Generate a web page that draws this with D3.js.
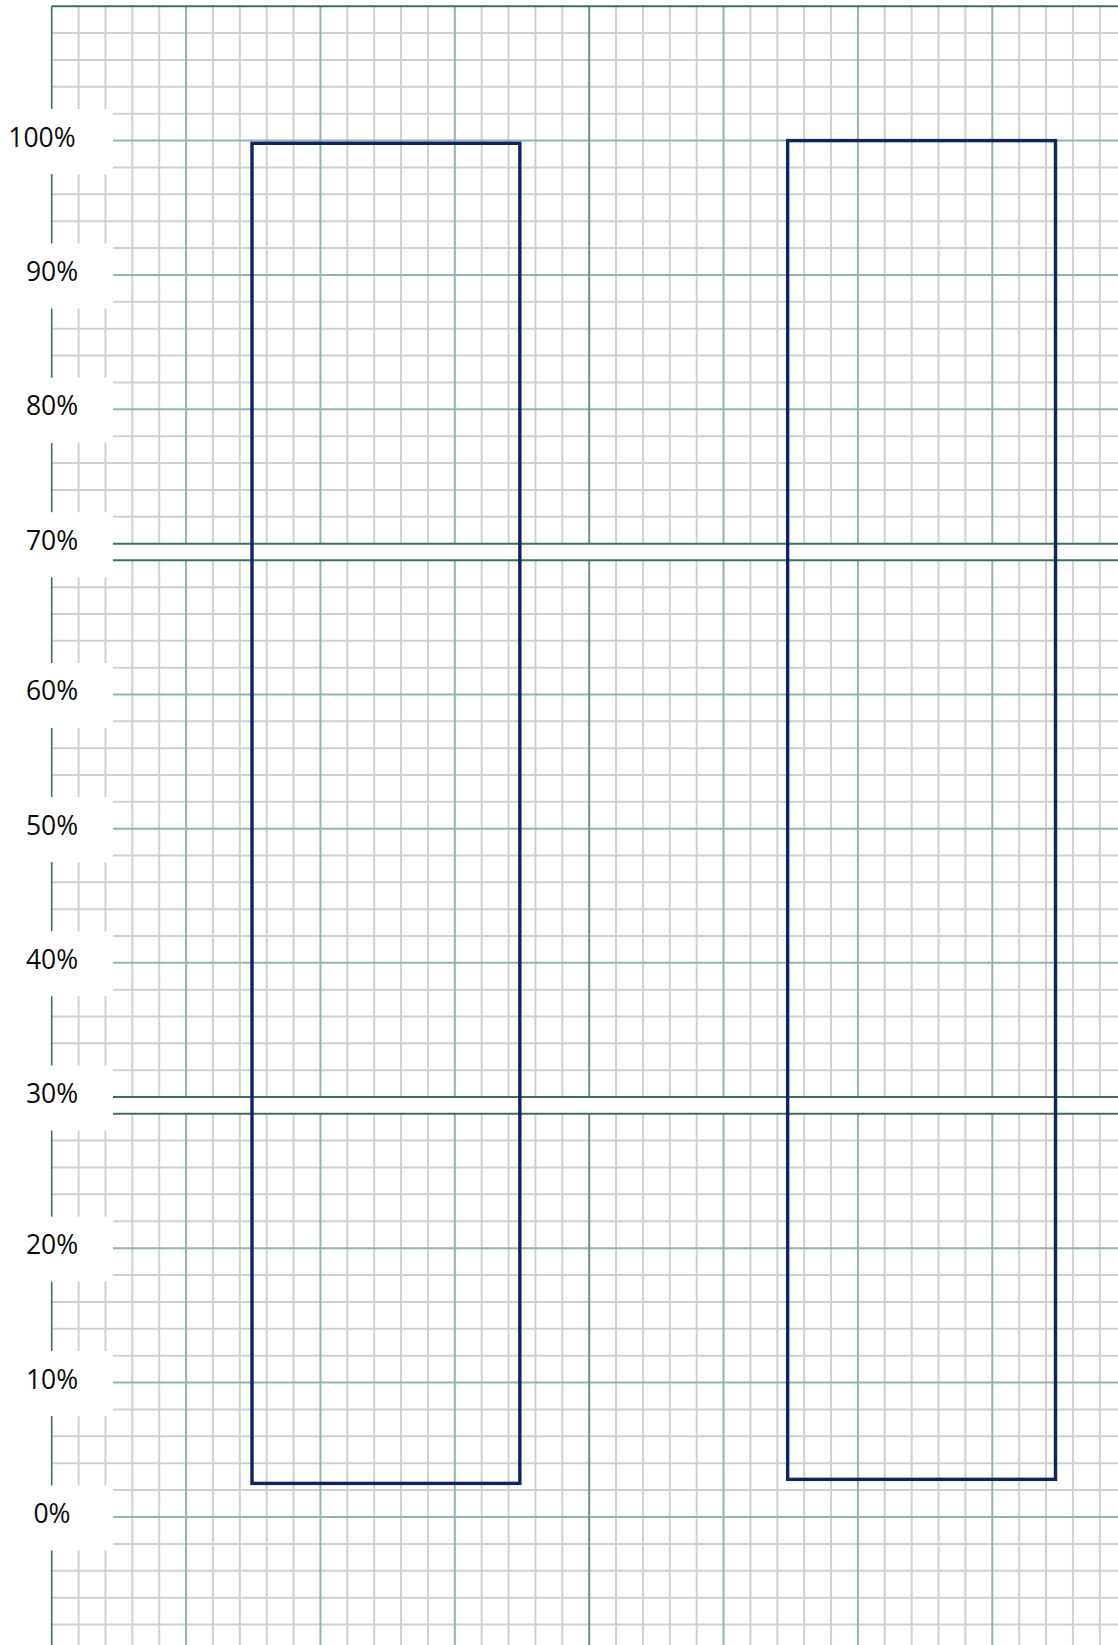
<!DOCTYPE html>
<html>
<head>
<meta charset="utf-8">
<script src="https://cdnjs.cloudflare.com/ajax/libs/d3/7.8.5/d3.min.js"></script>
<style>
  body { margin: 0; background: #fff; }
  svg { display: block; }
  .tick-label { font-family: "Open Sans", sans-serif; font-size: 26.5px; fill: #0a0a0a; }
</style>
</head>
<body>
<div id="chart"></div>
<script>
// floating bars: each one runs from a low to a high percentage
var categories = ['Bar 1', 'Bar 2'];
var lowValues = [2.5, 2.8];
var highValues = [99.8, 100.0];
var tickValues = [0, 10, 20, 30, 40, 50, 60, 70, 80, 90, 100];
var tickLabels = ['0%', '10%', '20%', '30%', '40%', '50%', '60%', '70%', '80%', '90%', '100%'];
// the paper is cut in three strips at these values
var stripBreaks = [30, 70];

var width = 1118, height = 1645;

var svg = d3.select('#chart')
  .append('svg')
  .attr('width', width)
  .attr('height', height);

// one linear scale per strip of graph paper
var yBot = d3.scaleLinear().domain([0, 30]).range([1517, 1113.7]);
var yMid = d3.scaleLinear().domain([30, 70]).range([1097, 560.3]);
var yTop = d3.scaleLinear().domain([70, 100]).range([543.7, 140.6]);

function y(v) {
  if (v >= stripBreaks[1]) return yTop(v);
  if (v >= stripBreaks[0]) return yMid(v);
  return yBot(v);
}

var strips = [
  { scale: yBot, from: -8, to: 30, yEnd: height },
  { scale: yMid, from: 30, to: 70 },
  { scale: yTop, from: 70, to: 110 }
];

// x of the paper, in minor squares
var xPaper = d3.scaleLinear().domain([0, 1]).range([51.7, 51.7 + 26.874]);
var nCols = Math.floor(xPaper.invert(width));
var cols = d3.range(0, nCols + 1);

var colMinor = '#d0d0d0', colMajor = '#93b3b0', colDark = '#3e6c69';

var grid = svg.append('g').attr('class', 'grid');

strips.forEach(function (s) {
  var g = grid.append('g');
  var yLow = s.yEnd != null ? s.yEnd : s.scale(s.from);
  var yHigh = s.scale(s.to);
  var rows = d3.range(s.from, s.to + 0.01, 2);

  function hLines(filter, color, w) {
    g.selectAll(null)
      .data(rows.filter(filter))
      .enter().append('line')
      .attr('x1', xPaper(0)).attr('x2', width)
      .attr('y1', function (d) { return s.scale(d); })
      .attr('y2', function (d) { return s.scale(d); })
      .attr('stroke', color).attr('stroke-width', w);
  }
  function vLines(filter, color, w) {
    g.selectAll(null)
      .data(cols.filter(filter))
      .enter().append('line')
      .attr('x1', function (d) { return xPaper(d); })
      .attr('x2', function (d) { return xPaper(d); })
      .attr('y1', yLow).attr('y2', yHigh)
      .attr('stroke', color).attr('stroke-width', w);
  }

  var isEdge = function (d) { return d === s.from && s.yEnd == null || d === s.to; };

  hLines(function (d) { return d % 10 !== 0; }, colMinor, 2);
  vLines(function (d) { return d % 5 !== 0; }, colMinor, 2);
  hLines(function (d) { return d % 10 === 0 && !isEdge(d); }, colMajor, 2);
  vLines(function (d) { return d % 5 === 0 && d !== 0 && d !== 20; }, colMajor, 2);
  vLines(function (d) { return d === 20; }, '#6a908d', 2);
  vLines(function (d) { return d === 0; }, colDark, 1.6);
  hLines(isEdge, colDark, 2);
});

// label boxes and labels
var labels = svg.append('g').attr('class', 'labels');

labels.selectAll('rect')
  .data(tickValues)
  .enter().append('rect')
  .attr('x', 0)
  .attr('width', 113)
  .attr('y', function (d) { return y(d) + 1 - 32.5; })
  .attr('height', 65)
  .attr('fill', '#fff');

labels.selectAll('text')
  .data(tickValues)
  .enter().append('text')
  .attr('class', 'tick-label')
  .attr('x', function (d) { return d === 100 ? 42 : 52; })
  .attr('y', function (d) { return y(d) - 4; })
  .attr('text-anchor', 'middle')
  .attr('dominant-baseline', 'central')
  .text(function (d, i) { return tickLabels[i]; });

// bars
var x = d3.scaleBand()
  .domain(categories)
  .range([252, 1055.5])
  .paddingInner(0.5)
  .paddingOuter(0);

svg.append('g').attr('class', 'bars')
  .selectAll('rect')
  .data(categories)
  .enter().append('rect')
  .attr('x', function (d) { return x(d); })
  .attr('width', x.bandwidth())
  .attr('y', function (d, i) { return y(highValues[i]); })
  .attr('height', function (d, i) { return y(lowValues[i]) - y(highValues[i]); })
  .attr('fill', 'none')
  .attr('stroke', '#0c2461')
  .attr('stroke-width', 3.4);
</script>
</body>
</html>
